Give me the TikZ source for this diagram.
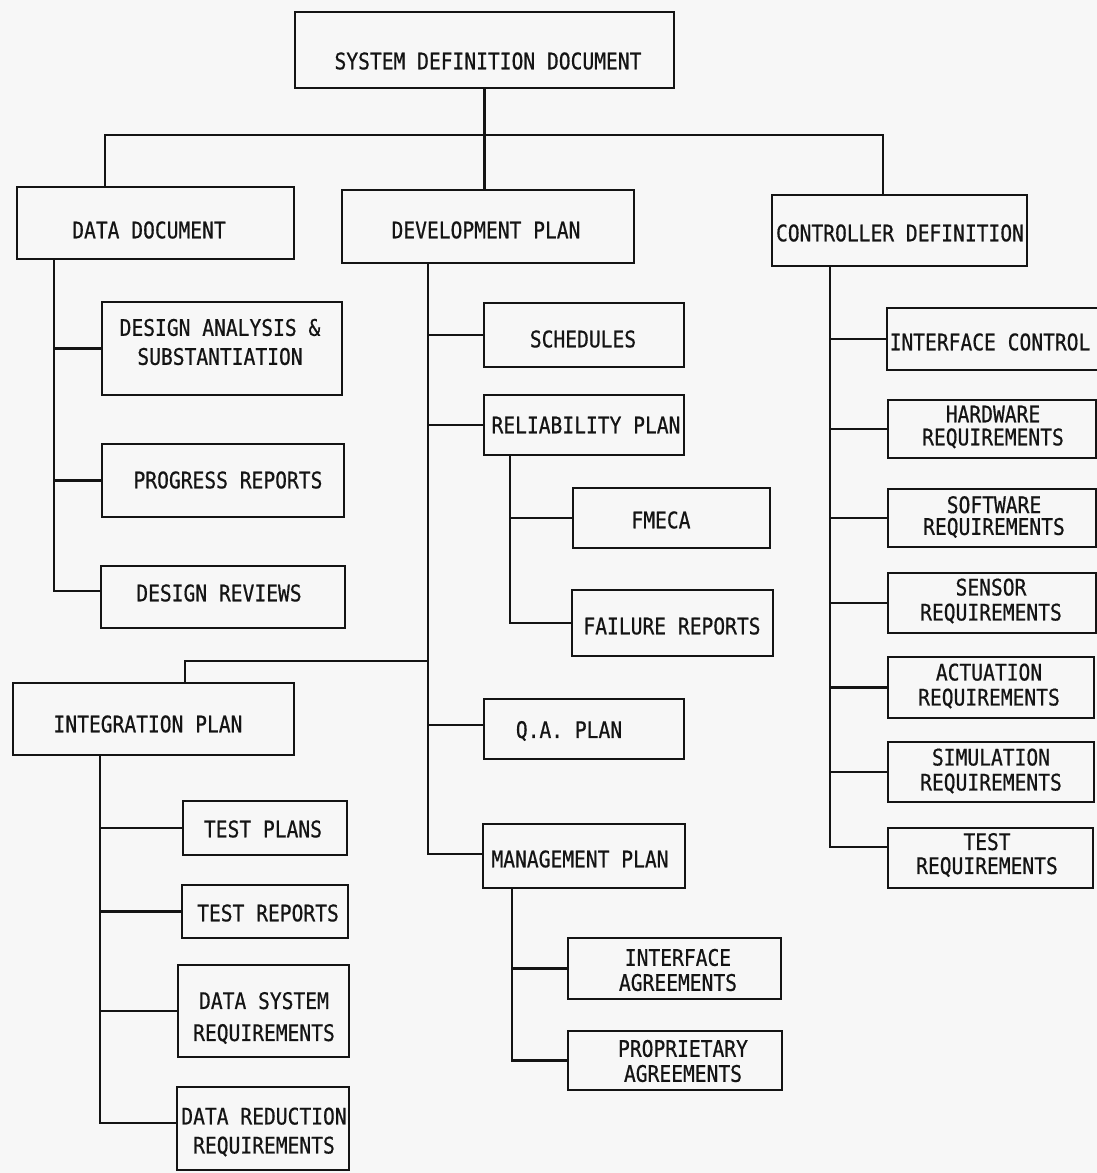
\documentclass[tikz,border=0pt]{standalone}
\usepackage{fontspec}
\newfontfamily\monofnt[FakeStretch=0.86,FakeBold=0.6]{DejaVu Sans Mono}
\usetikzlibrary{calc}
\newcommand\mybox[5]{\node[box,minimum width={(#4-#2)*0.5pt},minimum height={(#5-#3)*0.5pt}] (#1) at ({(#2+#4)/2},{(#3+#5)/2}) {};}
\tikzset{
  box/.style={draw=black!92, line width=1.3pt, inner sep=0pt, outer sep=0pt, rectangle},
  ln/.style={draw=black!92, line width=1.3pt},
  txt/.style={font=\monofnt\fontsize{11.4pt}{12.5pt}\selectfont, align=center, inner sep=0pt, text=black!92},
  txtb/.style={font=\monofnt\fontsize{11.4pt}{#1}\selectfont, align=center, inner sep=0pt, text=black!92}
}
\begin{document}
\begin{tikzpicture}[x=0.5pt,y=-0.5pt]
\fill[black!3] (0,0) rectangle (1097,1173);
\useasboundingbox (0,0) rectangle (1097,1173);

% top level
\mybox{sdd}{295}{12}{674}{88}
\node[txt] (sddt) at (488,61) {SYSTEM DEFINITION DOCUMENT};
\mybox{dd}{17}{187}{294}{259}
\node[txt] (ddt) at (149,230) {DATA DOCUMENT};
\mybox{dp}{342}{190}{634}{263}
\node[txt] (dpt) at (486,230) {DEVELOPMENT PLAN};
\mybox{cd}{772}{195}{1027}{266}
\node[txt] (cdt) at (900,233) {CONTROLLER DEFINITION};

\coordinate (jl) at (105,135);
\coordinate (jr) at (883,135);
\draw[ln] (sdd.south) -- (sdd.south |- dp.north);
\draw[ln] (dd.north -| jl) -- (jl) -- (jr) -- (cd.north -| jr);

% data document branch
\mybox{da}{102}{302}{342}{395}
\node[txtb=14.5pt] (dat) at (220,342) {DESIGN ANALYSIS \&\\SUBSTANTIATION};
\mybox{pr}{102}{444}{344}{517}
\node[txt] (prt) at (228,480) {PROGRESS REPORTS};
\mybox{dr}{101}{566}{345}{628}
\node[txt] (drt) at (219,593) {DESIGN REVIEWS};
\coordinate (dds) at ($(dd.south west)+(37,0)$);
\draw[ln] (dds) |- ([yshift=3pt]dr.west);
\draw[ln] (da.west) -- (da.west -| dds);
\draw[ln] (pr.west) -- (pr.west -| dds);

% development plan branch
\mybox{sch}{484}{303}{684}{367}
\node[txt] (scht) at (583,339) {SCHEDULES};
\mybox{rel}{484}{395}{684}{455}
\node[txt] (relt) at (586,425) {RELIABILITY PLAN};
\mybox{fm}{573}{488}{770}{548}
\node[txt] (fmt) at (661,520) {FMECA};
\mybox{fr}{572}{590}{773}{656}
\node[txt] (frt) at (672,626) {FAILURE REPORTS};
\mybox{qa}{484}{699}{684}{759}
\node[txt] (qat) at (569,731) {Q.A. PLAN};
\mybox{mp}{483}{824}{685}{888}
\node[txt] (mpt) at (580,859) {MANAGEMENT PLAN};
\mybox{ia}{568}{938}{781}{999}
\node[txt] (iat) at (678,970) {INTERFACE\\AGREEMENTS};
\mybox{pa}{568}{1031}{782}{1090}
\node[txt] (pat) at (683,1061) {PROPRIETARY\\AGREEMENTS};

\coordinate (dps) at ($(dp.south west)+(86,0)$);
\draw[ln] (dps) |- ([yshift=1pt]mp.west);
\draw[ln] (sch.west) -- (sch.west -| dps);
\draw[ln] (rel.west) -- (rel.west -| dps);
\draw[ln] ([yshift=2pt]qa.west) -- ([yshift=2pt]qa.west -| dps);
\coordinate (rels) at ($(rel.south west)+(26,0)$);
\draw[ln] (rels) |- (fr.west);
\draw[ln] (fm.west) -- (fm.west -| rels);
\coordinate (mps) at ($(mp.south west)+(29,0)$);
\draw[ln] (mps) |- (pa.west);
\draw[ln] (ia.west) -- (ia.west -| mps);

% integration plan branch
\mybox{ip}{13}{683}{294}{755}
\node[txt] (ipt) at (148,724) {INTEGRATION PLAN};
\coordinate (ipk) at (185,661);
\draw[ln] (ip.north -| ipk) -- (ipk) -- (ipk -| dps);
\mybox{tp}{183}{801}{347}{855}
\node[txt] (tpt) at (263,829) {TEST PLANS};
\mybox{tr}{182}{885}{348}{938}
\node[txt] (trt) at (268,913) {TEST REPORTS};
\mybox{dsr}{178}{965}{349}{1057}
\node[txtb=16pt] (dsrt) at (264,1018) {DATA SYSTEM\\REQUIREMENTS};
\mybox{drr}{177}{1087}{349}{1170}
\node[txtb=14.5pt] (drrt) at (264,1132) {DATA REDUCTION\\REQUIREMENTS};
\coordinate (ips) at ($(ip.south west)+(87,0)$);
\draw[ln] (ips) |- ([yshift=2.75pt]drr.west);
\draw[ln] (tp.west) -- (tp.west -| ips);
\draw[ln] (tr.west) -- (tr.west -| ips);
\draw[ln] (dsr.west) -- (dsr.west -| ips);

% controller definition branch
\mybox{ic}{887}{308}{1100}{370}
\node[txt] (ict) at (990,342) {INTERFACE CONTROL};
\mybox{hw}{888}{400}{1096}{458}
\node[txtb=11.5pt] (hwt) at (993,427) {HARDWARE\\REQUIREMENTS};
\mybox{sw}{888}{489}{1096}{547}
\node[txtb=10.9pt] (swt) at (994,517) {SOFTWARE\\REQUIREMENTS};
\mybox{sen}{888}{573}{1096}{633}
\node[txt] (sent) at (991,601) {SENSOR\\REQUIREMENTS};
\mybox{act}{888}{657}{1094}{718}
\node[txt] (actt) at (989,686) {ACTUATION\\REQUIREMENTS};
\mybox{sim}{888}{742}{1094}{802}
\node[txt] (simt) at (991,771) {SIMULATION\\REQUIREMENTS};
\mybox{tst}{888}{828}{1093}{888}
\node[txtb=12pt] (tstt) at (987,855) {TEST\\REQUIREMENTS};
\coordinate (cds) at ($(cd.south west)+(58,0)$);
\draw[ln] (cds) |- ([yshift=5.5pt]tst.west);
\draw[ln] (ic.west) -- (ic.west -| cds);
\draw[ln] (hw.west) -- (hw.west -| cds);
\draw[ln] (sw.west) -- (sw.west -| cds);
\draw[ln] (sen.west) -- (sen.west -| cds);
\draw[ln] (act.west) -- (act.west -| cds);
\draw[ln] (sim.west) -- (sim.west -| cds);
\end{tikzpicture}
\end{document}
